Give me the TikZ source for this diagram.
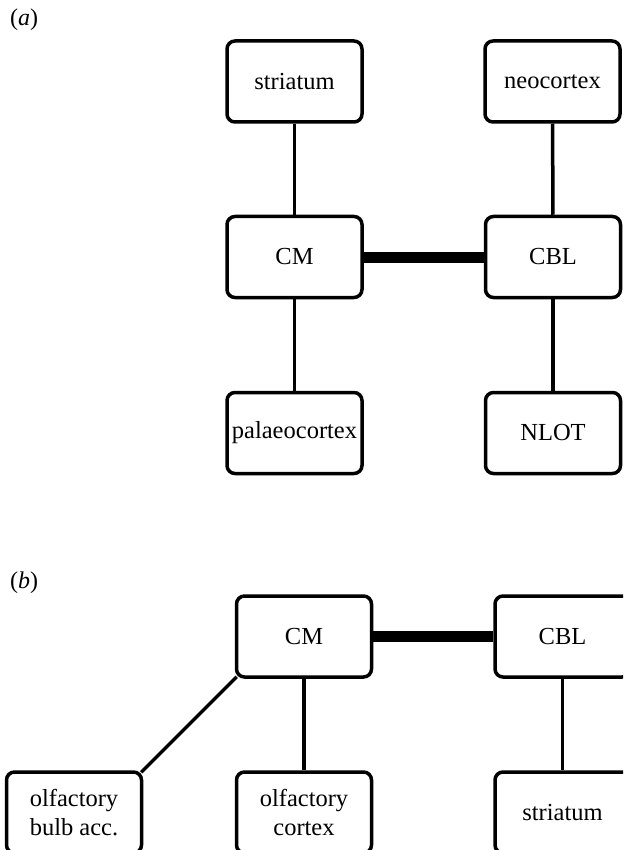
\documentclass[tikz,border=0pt]{standalone}
\usepackage{fontspec}
\setmainfont{Liberation Serif}
\begin{document}
\begin{tikzpicture}[x=1pt,y=-1pt,
  box/.style={draw, line width=3.5pt, rounded corners=8pt, minimum width=135pt, minimum height=81pt, inner sep=0pt, align=center, font=\fontsize{24.5}{29}\selectfont},
  link/.style={line width=3.5pt},
  strong/.style={line width=11pt},
  lbl/.style={anchor=west, inner sep=0pt, font=\fontsize{24}{28}\selectfont}]
\useasboundingbox (0,0) rectangle (623,850);
\clip (0,0) rectangle (623,850);
% panel a
\node[lbl] (la) at (10,20) {(\textit{a})};
\node[box] (str) at (294.5,81.5) {striatum};
\node[box] (neo) at (552.5,81.5) {neocortex};
\node[box] (cm) at (294.5,257) {CM};
\node[box] (cbl) at (553,257) {CBL};
\node[box] (pal) at (294.5,433) {palaeocortex};
\node[box] (nlot) at (553,433) {NLOT};
\draw[link] (str) -- (cm);
\draw[link] (neo) -- (cbl);
\draw[link] (cm) -- (pal);
\draw[link] (cbl) -- (nlot);
\draw[strong] (cm) -- (cbl);
% panel b
\node[lbl] (lb) at (10,583) {(\textit{b})};
\node[box] (cmb) at (304,636.5) {CM};
\node[box] (cblb) at (562.5,636.5) {CBL};
\node[box] (olb) at (74,812.5) {olfactory\\bulb acc.};
\node[box] (olc) at (304,812.5) {olfactory\\cortex};
\node[box] (strb) at (562.5,812.5) {striatum};
\draw[strong] (cmb) -- (cblb);
\draw[link] (cmb) -- (olc);
\draw[link] (cblb) -- (strb);
\path (cmb.south west) ++(2,-2) coordinate (cmsw) (olb.north east) ++(-2,2) coordinate (olne);
\draw[link] (cmsw) -- (olne);
\end{tikzpicture}
\end{document}
